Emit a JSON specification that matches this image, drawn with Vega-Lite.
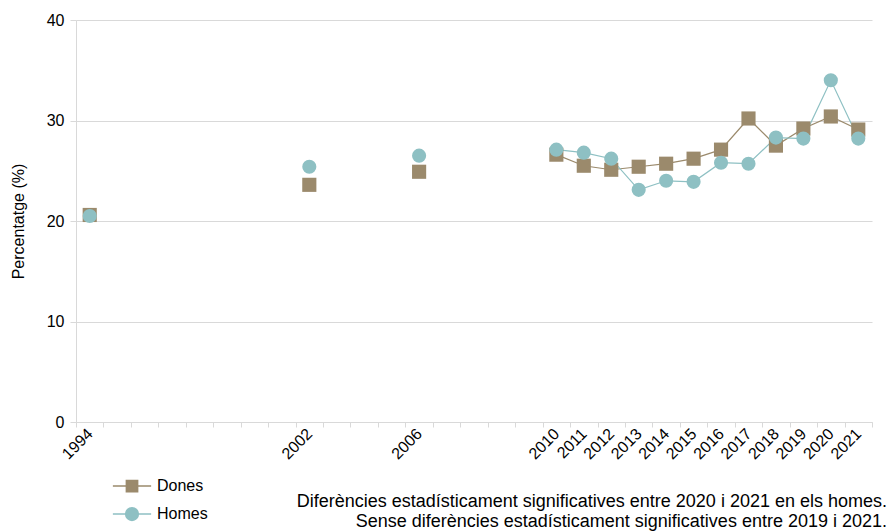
{
  "$schema": "https://vega.github.io/schema/vega-lite/v6.json",
  "width": 796,
  "height": 402,
  "autosize": {"type": "none"},
  "padding": {"left": 76, "top": 20, "right": 15, "bottom": 109},
  "background": "white",
  "config": {"font": "Liberation Sans", "view": {"stroke": null}},
  "title": {
    "text": ["Diferències estadísticament significatives entre 2020 i 2021 en els homes.", "Sense diferències estadísticament significatives entre 2019 i 2021."],
    "orient": "bottom", "anchor": "end", "frame": "group", "align": "right",
    "dx": 15, "offset": -31, "fontSize": 18, "fontWeight": "normal", "color": "#000", "lineHeight": 20
  },
  "data": {"values": [
    {"year": "1994", "sexe": "Dones", "pct": 20.6},
    {"year": "2002", "sexe": "Dones", "pct": 23.6},
    {"year": "2006", "sexe": "Dones", "pct": 24.9},
    {"year": "2010", "sexe": "Dones", "pct": 26.6},
    {"year": "2011", "sexe": "Dones", "pct": 25.5},
    {"year": "2012", "sexe": "Dones", "pct": 25.1},
    {"year": "2013", "sexe": "Dones", "pct": 25.4},
    {"year": "2014", "sexe": "Dones", "pct": 25.7},
    {"year": "2015", "sexe": "Dones", "pct": 26.2},
    {"year": "2016", "sexe": "Dones", "pct": 27.1},
    {"year": "2017", "sexe": "Dones", "pct": 30.2},
    {"year": "2018", "sexe": "Dones", "pct": 27.5},
    {"year": "2019", "sexe": "Dones", "pct": 29.2},
    {"year": "2020", "sexe": "Dones", "pct": 30.4},
    {"year": "2021", "sexe": "Dones", "pct": 29.1},
    {"year": "1994", "sexe": "Homes", "pct": 20.5},
    {"year": "2002", "sexe": "Homes", "pct": 25.4},
    {"year": "2006", "sexe": "Homes", "pct": 26.5},
    {"year": "2010", "sexe": "Homes", "pct": 27.1},
    {"year": "2011", "sexe": "Homes", "pct": 26.8},
    {"year": "2012", "sexe": "Homes", "pct": 26.2},
    {"year": "2013", "sexe": "Homes", "pct": 23.1},
    {"year": "2014", "sexe": "Homes", "pct": 24.0},
    {"year": "2015", "sexe": "Homes", "pct": 23.9},
    {"year": "2016", "sexe": "Homes", "pct": 25.8},
    {"year": "2017", "sexe": "Homes", "pct": 25.7},
    {"year": "2018", "sexe": "Homes", "pct": 28.3},
    {"year": "2019", "sexe": "Homes", "pct": 28.2},
    {"year": "2020", "sexe": "Homes", "pct": 34.0},
    {"year": "2021", "sexe": "Homes", "pct": 28.2}
  ]},
  "encoding": {
    "x": {
      "field": "year", "type": "ordinal",
      "scale": {"type": "band", "paddingInner": 0, "paddingOuter": 0,
        "domain": ["1994", "b1", "b2", "b3", "b4", "b5", "b6", "b7", "2002", "b8", "b9", "b10", "2006", "b11", "b12", "b13", "b14", "2010", "2011", "2012", "2013", "2014", "2015", "2016", "2017", "2018", "2019", "2020", "2021"]},
      "axis": {
        "title": null, "grid": false, "labelAngle": -45, "labelAlign": "right", "labelBaseline": "middle",
        "labelFontSize": 16, "labelColor": "#000", "labelOverlap": false, "labelPadding": 4,
        "labelExpr": "indexof(datum.label, 'b') == 0 ? '' : datum.label",
        "tickBand": "extent", "tickColor": "#d9d9d9", "tickSize": 5, "domainColor": "#d9d9d9"
      }
    },
    "y": {
      "field": "pct", "type": "quantitative",
      "scale": {"domain": [0, 40], "nice": false},
      "axis": {
        "values": [0, 10, 20, 30, 40], "title": "Percentatge (%)",
        "titleFontSize": 16, "titleFontWeight": "normal", "titleColor": "#000", "titlePadding": 20,
        "labelFontSize": 16, "labelColor": "#000", "labelPadding": 6,
        "gridColor": "#d9d9d9", "domainColor": "#d9d9d9", "tickColor": "#d9d9d9", "tickSize": 6
      }
    },
    "color": {
      "field": "sexe", "type": "nominal",
      "scale": {"domain": ["Dones", "Homes"], "range": ["#9b8a6c", "#8ec0c3"]},
      "legend": {
        "title": null, "orient": "none", "legendX": 47.5, "legendY": 457.5, "padding": 0,
        "labelFontSize": 16, "labelColor": "#000", "labelOffset": 16.5, "rowPadding": 9,
        "symbolSize": 225, "symbolStrokeWidth": 1.5,
        "encode": {"symbols": {"update": {
          "shape": {"signal": "datum.value === 'Dones' ? 'M-2.55,0H-0.75M0.75,0H2.55M-0.75,-0.75H0.75V0.75H-0.75Z' : 'M-2.55,0H-0.85M0.85,0H2.55M0.85,0A0.85,0.85 0 1,1 -0.85,0A0.85,0.85 0 1,1 0.85,0Z'"},
          "opacity": {"value": 1}
        }}}
      }
    }
  },
  "layer": [
    {
      "transform": [{"filter": "toNumber(datum.year) >= 2010"}],
      "mark": {"type": "line", "strokeWidth": 1.2}
    },
    {
      "transform": [{"filter": "datum.sexe === 'Dones'"}],
      "mark": {"type": "point", "filled": true, "opacity": 1, "shape": "square", "size": 200}
    },
    {
      "transform": [{"filter": "datum.sexe === 'Homes'"}],
      "mark": {"type": "point", "filled": true, "opacity": 1, "shape": "circle", "size": 200}
    }
  ]
}
